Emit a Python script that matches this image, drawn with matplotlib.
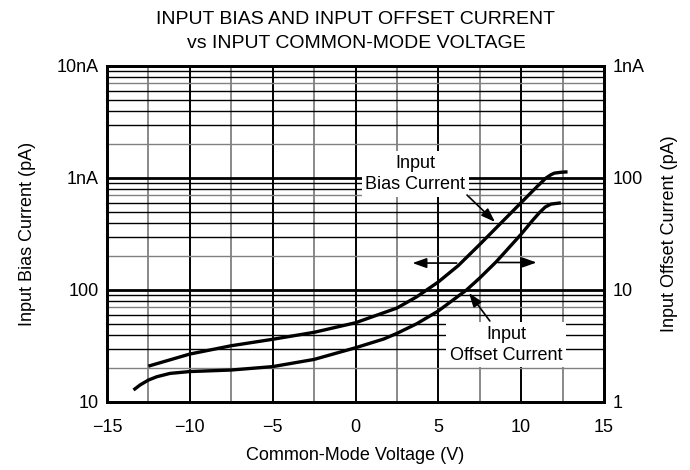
import matplotlib
matplotlib.use('Agg')
import matplotlib.pyplot as plt
from matplotlib.ticker import FixedLocator, FixedFormatter, NullLocator

plt.rcParams['font.family'] = ['Liberation Sans', 'DejaVu Sans']

# ---- data ----
bias_v = [-12.5, -10, -7.5, -5, -2.5, 0, 2.5, 3.7, 5, 6.2, 7.5, 10, 11.0, 11.5,
          11.8, 12.0, 12.4, 12.8]
bias_pa = [20.9, 26.8, 31.8, 36.3, 41.9, 51, 69, 87, 118, 165, 255, 603, 850, 1000,
           1070, 1105, 1125, 1135]

offset_v = [-13.4, -13.0, -12.5, -12.0, -11.2, -10, -7.5, -5, -2.5, 0, 1.7, 2.5, 3.7,
            5, 6.7, 7.5, 8.5, 10, 10.7, 11.1, 11.45, 11.8, 12.4]
offset_pa = [1.28, 1.42, 1.57, 1.68, 1.80, 1.87, 1.93, 2.07, 2.40, 3.05, 3.65, 4.1, 5.0,
             6.5, 10.0, 12.8, 17.9, 31.5, 42, 49, 55, 58.5, 60]

x_ticks = [-15, -10, -5, 0, 5, 10, 15]
x_tick_labels = ['\u221215', '\u221210', '\u22125', '0', '5', '10', '15']
left_ticks = [10, 100, 1000, 10000]
left_labels = ['10', '100', '1nA', '10nA']
right_ticks = [1, 10, 100, 1000]
right_labels = ['1', '10', '100', '1nA']

FS = 13

fig = plt.figure(figsize=(6.9, 4.7), dpi=100)
ax = fig.add_axes([107/690, 68/470, 497/690, 336/470])
ax.set_xlim(-15, 15)
ax.set_yscale('log')
ax.set_ylim(10, 10000)

# grid
for v in [-12.5, -7.5, -2.5, 2.5, 7.5, 12.5]:
    ax.axvline(v, color='#808080', lw=1.3, zorder=1)
for v in [-10, -5, 0, 5, 10]:
    ax.axvline(v, color='black', lw=1.4, zorder=1)
for dec in [10, 100, 1000]:
    for m in range(2, 10):
        c = '#808080' if m in (2, 7) else 'black'
        ax.axhline(dec * m, color=c, lw=1.0, zorder=1)
for dec in [100, 1000]:
    ax.axhline(dec, color='black', lw=2.0, zorder=1)

ax.xaxis.set_major_locator(FixedLocator(x_ticks))
ax.xaxis.set_major_formatter(FixedFormatter(x_tick_labels))
ax.yaxis.set_major_locator(FixedLocator(left_ticks))
ax.yaxis.set_major_formatter(FixedFormatter(left_labels))
ax.yaxis.set_minor_locator(NullLocator())
ax.tick_params(axis='both', length=0, labelsize=FS)
ax.tick_params(axis='x', pad=12)
ax.tick_params(axis='y', pad=6)

ax.plot(bias_v, bias_pa, color='black', lw=2.4, zorder=4,
        solid_capstyle='butt', solid_joinstyle='round')

ax2 = ax.twinx()
ax2.set_yscale('log')
ax2.set_ylim(1, 1000)
ax2.yaxis.set_major_locator(FixedLocator(right_ticks))
ax2.yaxis.set_major_formatter(FixedFormatter(right_labels))
ax2.yaxis.set_minor_locator(NullLocator())
ax2.tick_params(axis='y', length=0, labelsize=FS, pad=6)
ax2.plot(offset_v, offset_pa, color='black', lw=2.4, zorder=4,
         solid_capstyle='butt', solid_joinstyle='round')

for a in (ax, ax2):
    for s in a.spines.values():
        s.set_linewidth(2.0)
        s.set_color('black')

ax.set_xlabel('Common-Mode Voltage (V)', fontsize=FS, labelpad=8)
ax.set_ylabel('Input Bias Current (pA)', fontsize=FS, labelpad=15)
ax2.set_ylabel('Input Offset Current (pA)', fontsize=FS, labelpad=12)

# labels with white boxes
box = dict(boxstyle='square,pad=0.2', fc='white', ec='none')
ax.text(3.6, 1086, 'Input\nBias Current', fontsize=FS, ha='center', va='center',
        bbox=box, zorder=5, linespacing=1.3)
ax.text(9.1, 32.5, 'Input\nOffset Current', fontsize=FS, ha='center', va='center',
        bbox=box, zorder=5, linespacing=1.3)

arrow = dict(arrowstyle='-|>,head_length=0.7,head_width=0.25', lw=1.2, color='black',
             mutation_scale=12, shrinkA=0, shrinkB=0)
ax.annotate('', xy=(8.42, 405), xytext=(6.73, 705), arrowprops=arrow, zorder=6)
ax.annotate('', xy=(6.85, 94), xytext=(8.11, 52.9), arrowprops=arrow, zorder=6)
ax.annotate('', xy=(3.44, 174), xytext=(6.11, 174), arrowprops=arrow, zorder=6)
ax.annotate('', xy=(10.93, 176), xytext=(8.6, 176), arrowprops=arrow, zorder=6)

fig.text(355.5/690, 1 - 20/470, 'INPUT BIAS AND INPUT OFFSET CURRENT',
         ha='center', va='center', fontsize=14)
fig.text(356/690, 1 - 43/470, 'vs INPUT COMMON-MODE VOLTAGE',
         ha='center', va='center', fontsize=14)

fig.savefig('out.png', dpi=100)
